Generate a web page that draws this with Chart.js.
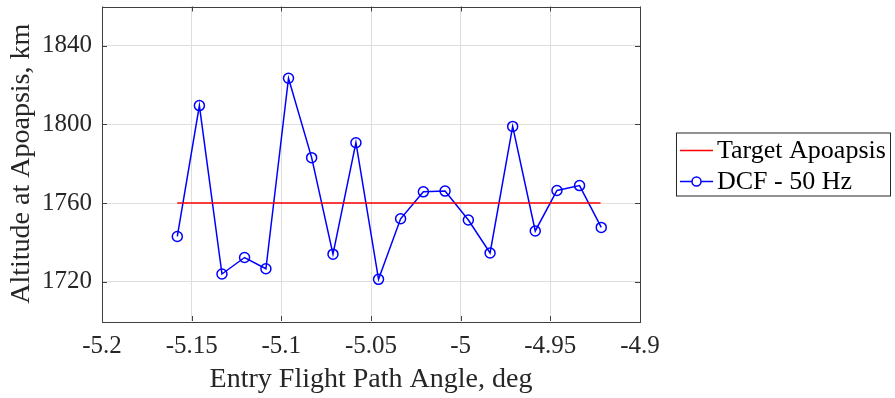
<!DOCTYPE html>
<html>
<head>
<meta charset="utf-8">
<script src="https://cdn.jsdelivr.net/npm/chart.js@4/dist/chart.umd.min.js"></script>
<style>
	html, body { margin: 0; padding: 0; background: #fff; }
	#wrap { width: 895px; height: 398px; }
</style>
</head>
<body>
<div id="wrap"><canvas id="apoChart" width="895" height="398"></canvas></div>
<script>
// values
const entryAngles = [-5.158, -5.1457, -5.1331, -5.1205, -5.1086, -5.096, -5.0831, -5.0712, -5.0584, -5.0458,
	-5.0335, -5.0208, -5.0087, -4.9957, -4.9836, -4.971, -4.9584, -4.9463, -4.9337, -4.9216];
const apoapsisAlt = [1743.0, 1809.6, 1723.9, 1732.3, 1726.6, 1823.5, 1783.1, 1734.0, 1790.7, 1721.2,
	1752.0, 1765.7, 1766.1, 1751.4, 1734.6, 1799.0, 1745.8, 1766.4, 1768.9, 1747.6];
const targetAngles = [-5.158, -4.922];
const targetAlt = [1760, 1760];

const xTicks = [-5.2, -5.15, -5.1, -5.05, -5, -4.95, -4.9];
const xTickLabels = ['-5.2', '-5.15', '-5.1', '-5.05', '-5', '-4.95', '-4.9'];
const yTicks = [1720, 1760, 1800, 1840];
const yTickLabels = ['1720', '1760', '1800', '1840'];

const serif = "'Liberation Serif', 'Times New Roman', serif";
const textColor = '#262626';

function toPoints(xs, ys) {
	return xs.map((x, i) => ({ x: x, y: ys[i] }));
}

// MATLAB style box with inward ticks on all four sides
const axesBox = {
	id: 'axesBox',
	afterDatasetsDraw(chart) {
		const { ctx, chartArea: a, scales } = chart;
		const len = 5;
		ctx.save();
		ctx.strokeStyle = '#404040';
		ctx.lineWidth = 1;
		ctx.beginPath();
		scales.x.ticks.forEach((t) => {
			const px = Math.round(scales.x.getPixelForValue(t.value)) + 0.5;
			ctx.moveTo(px, a.top); ctx.lineTo(px, a.top + len);
			ctx.moveTo(px, a.bottom); ctx.lineTo(px, a.bottom - len);
		});
		scales.y.ticks.forEach((t) => {
			const py = Math.round(scales.y.getPixelForValue(t.value)) + 0.5;
			ctx.moveTo(a.left, py); ctx.lineTo(a.left + len, py);
			ctx.moveTo(a.right, py); ctx.lineTo(a.right - len, py);
		});
		ctx.stroke();
		ctx.strokeRect(Math.round(a.left) + 0.5, Math.round(a.top) + 0.5,
			Math.round(a.right - a.left), Math.round(a.bottom - a.top));
		ctx.restore();
	}
};

// boxed legend to the right of the axes
const boxLegend = {
	id: 'boxLegend',
	afterDraw(chart) {
		const { ctx, chartArea: a } = chart;
		const left = a.right + 36;
		const top = a.top + 126;
		const w = 214, h = 63, row = 31;
		ctx.save();
		ctx.fillStyle = '#fff';
		ctx.fillRect(left, top, w, h);
		ctx.strokeStyle = '#262626';
		ctx.lineWidth = 1;
		ctx.strokeRect(left + 0.5, top + 0.5, w, h);
		ctx.font = '26px ' + serif;
		ctx.textBaseline = 'middle';
		ctx.textAlign = 'left';
		chart.data.datasets.forEach((ds, i) => {
			const cy = top + 18 + i * row;
			ctx.strokeStyle = ds.borderColor;
			ctx.lineWidth = 1.5;
			ctx.beginPath();
			ctx.moveTo(left + 4, cy);
			ctx.lineTo(left + 37, cy);
			ctx.stroke();
			if (ds.pointRadius > 0) {
				ctx.beginPath();
				ctx.arc(left + 20.5, cy, 4.5, 0, Math.PI * 2);
				ctx.fillStyle = '#fff';
				ctx.fill();
				ctx.stroke();
			}
			ctx.fillStyle = '#000';
			ctx.fillText(ds.label, left + 41, cy + 1);
		});
		ctx.restore();
	}
};

new Chart(document.getElementById('apoChart'), {
	type: 'line',
	data: {
		datasets: [
			{
				label: 'Target Apoapsis',
				data: toPoints(targetAngles, targetAlt),
				borderColor: '#ff0000',
				borderWidth: 1.5,
				pointRadius: 0,
				fill: false
			},
			{
				label: 'DCF - 50 Hz',
				data: toPoints(entryAngles, apoapsisAlt),
				borderColor: '#0000ff',
				borderWidth: 1.5,
				pointRadius: 5,
				pointBorderWidth: 1.5,
				pointBackgroundColor: 'rgba(0,0,0,0)',
				pointBorderColor: '#0000ff',
				tension: 0,
				fill: false
			}
		]
	},
	options: {
		responsive: false,
		animation: false,
		devicePixelRatio: 1,
		layout: { padding: { top: 5, right: 255, left: 0, bottom: 0 } },
		plugins: {
			legend: { display: false },
			tooltip: { enabled: false }
		},
		scales: {
			x: {
				type: 'linear',
				min: -5.2,
				max: -4.9,
				afterBuildTicks: (s) => { s.ticks = xTicks.map((v) => ({ value: v })); },
				afterFit: (s) => { s.height = 77; s.paddingLeft = 0; s.paddingRight = 0; },
				grid: { color: '#dedede', drawTicks: false, lineWidth: 1 },
				border: { display: false },
				ticks: {
					autoSkip: false,
					maxRotation: 0,
					padding: 10,
					color: textColor,
					font: { family: serif, size: 25 },
					callback: (v, i) => xTickLabels[i]
				},
				title: {
					display: true,
					text: 'Entry Flight Path Angle, deg',
					color: textColor,
					font: { family: serif, size: 28 },
					padding: { top: 0, bottom: 2 }
				}
			},
			y: {
				type: 'linear',
				min: 1700,
				max: 1860,
				afterBuildTicks: (s) => { s.ticks = yTicks.map((v) => ({ value: v })); },
				afterFit: (s) => { s.width = 102; s.paddingTop = 0; s.paddingBottom = 0; },
				grid: { color: '#dedede', drawTicks: false, lineWidth: 1 },
				border: { display: false },
				ticks: {
					autoSkip: false,
					padding: 10,
					color: textColor,
					font: { family: serif, size: 25 },
					callback: (v, i) => yTickLabels[i]
				},
				title: {
					display: true,
					text: 'Altitude at Apoapsis, km',
					color: textColor,
					font: { family: serif, size: 28 },
					padding: { top: 5, bottom: 0 }
				}
			}
		}
	},
	plugins: [axesBox, boxLegend]
});
</script>
</body>
</html>
